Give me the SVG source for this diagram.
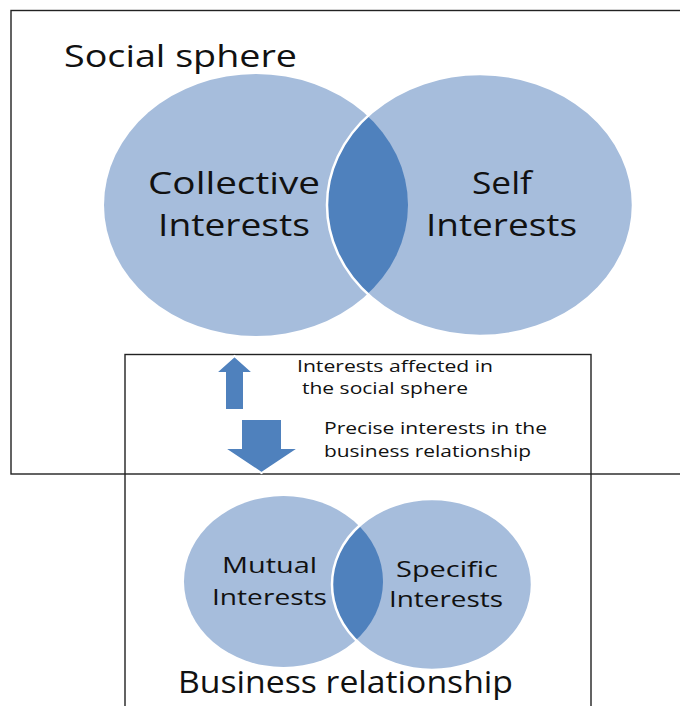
<svg xmlns="http://www.w3.org/2000/svg" width="680" height="706" viewBox="0 0 680 706">
  <style>
    .frame { fill: none; stroke: #222; stroke-width: 1.4; }
    .set { fill: #A6BDDC; }
    .overlap { fill: #4F81BD; }
    .edge { fill: none; stroke: #fff; stroke-width: 2.5; }
    .arrow { fill: #4F81BD; stroke: #fff; stroke-width: 2; stroke-linejoin: miter; }
    text { font-family: "Open Sans", "Liberation Sans", sans-serif; fill: #111; }
    .title { font-size: 31px; }
    .big { font-size: 31px; }
    .mid { font-size: 22px; }
    .small { font-size: 17px; }
  </style>
  <defs>
    <clipPath id="clipCollective">
      <ellipse cx="256" cy="205" rx="152" ry="131"/>
    </clipPath>
    <clipPath id="clipMutual">
      <ellipse cx="283.5" cy="581.5" rx="99.5" ry="85.5"/>
    </clipPath>
  </defs>

  <!-- frames -->
  <g id="social-sphere-frame">
    <rect class="frame" x="11" y="10.5" width="690" height="463.5"/>
  </g>
  <g id="business-frame">
    <rect class="frame" x="125" y="354.5" width="466" height="380"/>
  </g>

  <!-- social sphere sets -->
  <g id="social-venn">
    <g id="collective-interests">
      <ellipse class="set" cx="256" cy="205" rx="152" ry="131"/>
    </g>
    <g id="self-interests">
      <ellipse class="set" cx="480" cy="205" rx="153" ry="131"/>
    </g>
    <g id="social-overlap">
      <ellipse class="overlap" cx="480" cy="205" rx="153" ry="131" clip-path="url(#clipCollective)"/>
      <ellipse class="edge" cx="480" cy="205" rx="153" ry="131"/>
    </g>
  </g>

  <text class="title" x="64" y="67" textLength="233" lengthAdjust="spacingAndGlyphs">Social sphere</text>
  <text class="big" x="148" y="194" textLength="172" lengthAdjust="spacingAndGlyphs">Collective</text>
  <text class="big" x="158" y="236" textLength="152" lengthAdjust="spacingAndGlyphs">Interests</text>
  <text class="big" x="472" y="194" textLength="60" lengthAdjust="spacingAndGlyphs">Self</text>
  <text class="big" x="426" y="236" textLength="151" lengthAdjust="spacingAndGlyphs">Interests</text>

  <!-- connectors -->
  <g id="connectors">
    <polygon class="arrow" points="234.5,356 253.5,373 244,373 244,410 225,410 225,373 215.5,373"/>
    <polygon class="arrow" points="241,419 282,419 282,448 299,448 261.5,473 224,448 241,448"/>
  </g>

  <text class="small" x="297" y="372" textLength="196" lengthAdjust="spacingAndGlyphs">Interests affected in</text>
  <text class="small" x="302" y="394" textLength="166" lengthAdjust="spacingAndGlyphs">the social sphere</text>
  <text class="small" x="324" y="434" textLength="223" lengthAdjust="spacingAndGlyphs">Precise interests in the</text>
  <text class="small" x="324" y="457" textLength="207" lengthAdjust="spacingAndGlyphs">business relationship</text>

  <!-- business relationship sets -->
  <g id="business-venn">
    <g id="mutual-interests">
      <ellipse class="set" cx="283.5" cy="581.5" rx="99.5" ry="85.5"/>
    </g>
    <g id="specific-interests">
      <ellipse class="set" cx="432" cy="584.5" rx="100" ry="85.5"/>
    </g>
    <g id="business-overlap">
      <ellipse class="overlap" cx="432" cy="584.5" rx="100" ry="85.5" clip-path="url(#clipMutual)"/>
      <ellipse class="edge" cx="432" cy="584.5" rx="100" ry="85.5"/>
    </g>
  </g>

  <text class="mid" x="222" y="573" textLength="95" lengthAdjust="spacingAndGlyphs">Mutual</text>
  <text class="mid" x="212" y="605" textLength="115" lengthAdjust="spacingAndGlyphs">Interests</text>
  <text class="mid" x="396" y="577" textLength="102" lengthAdjust="spacingAndGlyphs">Specific</text>
  <text class="mid" x="389" y="607" textLength="114" lengthAdjust="spacingAndGlyphs">Interests</text>
  <text class="title" x="178" y="693" textLength="335" lengthAdjust="spacingAndGlyphs">Business relationship</text>
</svg>
